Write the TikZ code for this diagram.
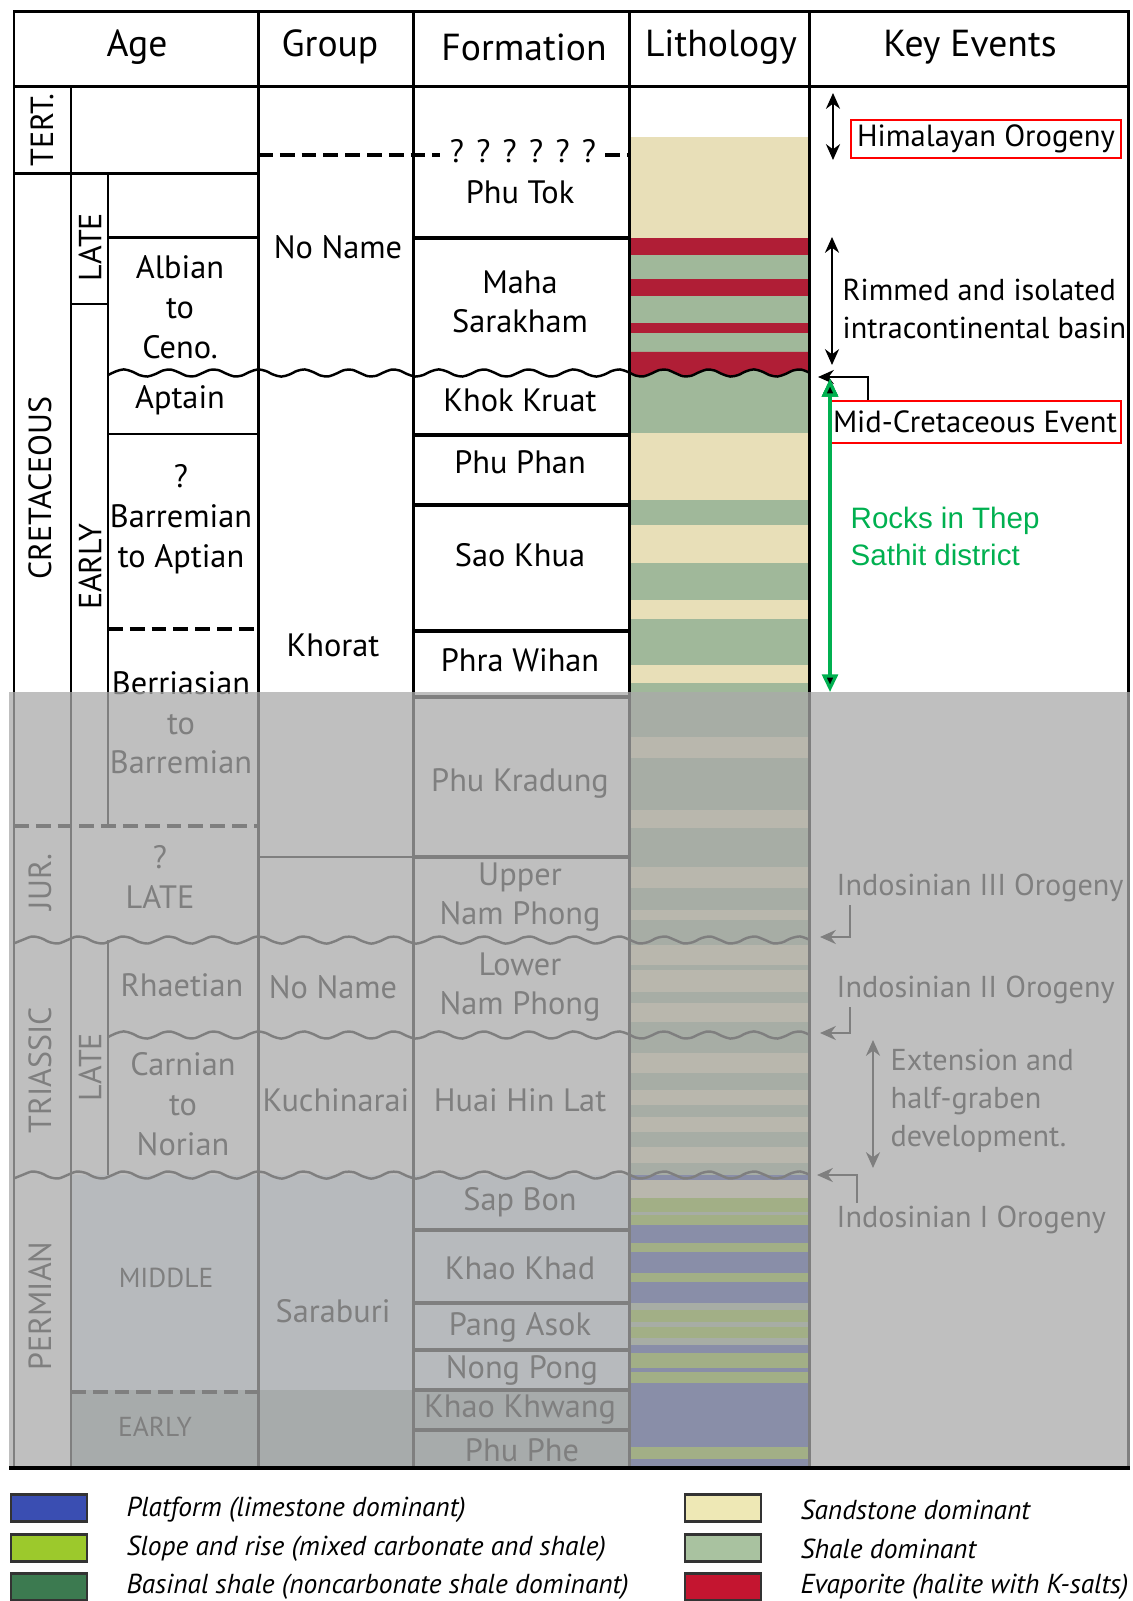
\documentclass[tikz,border=0pt]{standalone}
\usepackage{fontspec}
\setmainfont{PT Sans}
\newfontfamily\arialfont{Liberation Sans}
\usetikzlibrary{arrows.meta}
\definecolor{sandclr}{RGB}{232,223,184}
\definecolor{shaleclr}{RGB}{160,184,154}
\definecolor{evapclr}{RGB}{176,30,54}
\definecolor{platclr}{RGB}{40,60,165}
\definecolor{slopeclr}{RGB}{140,190,30}
\definecolor{midperm}{RGB}{222,234,248}
\definecolor{earlyperm}{RGB}{160,176,176}
\definecolor{veil}{RGB}{170,170,170}
\definecolor{rockgreen}{RGB}{0,176,80}
\definecolor{legplat}{RGB}{58,78,178}
\definecolor{legslope}{RGB}{156,201,44}
\definecolor{legbasin}{RGB}{60,122,80}
\definecolor{legsand}{RGB}{238,232,181}
\definecolor{legshale}{RGB}{169,194,160}
\definecolor{legevap}{RGB}{196,21,48}
\tikzstyle{grid}=[line width=0.85pt]
\tikzstyle{thinline}=[line width=0.5pt]
\tikzstyle{fline}=[line width=1.2pt]
\tikzstyle{dashline}=[line width=0.95pt, dash pattern=on 4.2pt off 2pt]
\tikzstyle{wline}=[line width=0.7pt]
\tikzstyle{hdr}=[font=\fontsize{10.7}{12}\selectfont]
\tikzstyle{lbl}=[font=\fontsize{9.2}{11.3}\selectfont, align=center]
\tikzstyle{vlbl}=[rotate=90, font=\fontsize{9.1}{10}\selectfont]
\tikzstyle{tinylbl}=[font=\fontsize{7.8}{8}\selectfont]
\tikzstyle{evt}=[anchor=west, align=left, inner sep=0pt, font=\fontsize{8.6}{10.8}\selectfont]
\tikzstyle{redbox}=[draw=red, line width=0.6pt, inner sep=0pt, font=\fontsize{8.7}{10.8}\selectfont]
\tikzstyle{rocks}=[anchor=west, align=left, inner sep=0pt, text=rockgreen, font=\arialfont\fontsize{8.4}{10.5}\selectfont]
\tikzstyle{evarrow}=[line width=0.6pt, {Stealth[length=4.5pt,width=4pt]}-{Stealth[length=4.5pt,width=4pt]}]
\tikzstyle{elbow}=[line width=0.6pt, -{Stealth[length=4.5pt,width=4pt]}]
\tikzstyle{greenarrow}=[draw=rockgreen, line width=0.9pt, {Triangle[length=5pt,width=4.5pt]}-{Triangle[length=5pt,width=4.5pt]}]
\tikzstyle{swatch}=[draw=black!80, line width=0.6pt, minimum width=0.76cm, minimum height=0.27cm, inner sep=0pt]
\tikzstyle{legtext}=[anchor=west, inner sep=0pt, font=\fontsize{7.8}{8}\selectfont\itshape]
\newcommand{\unconf}[3]{\draw[wline] plot[domain=#2:#3, samples=90, smooth] (\x, {#1+3.6*sin(8*\x)});}
\newcommand{\qgap}{\hspace{3.5pt}}

\begin{document}
\begin{tikzpicture}[x=0.01cm, y=-0.01cm]
	\useasboundingbox (0, 0) rectangle (1132, 1601);
	\begin{scope}
		\fill[midperm] (71, 1175) rectangle (629, 1390);
		\fill[earlyperm] (71, 1390) rectangle (629, 1467);
		\foreach \ya/\yb/\clr in {137/238/sandclr, 238/255/evapclr, 255/279/shaleclr, 279/296/evapclr, 296/323/shaleclr, 323/333/evapclr, 333/352/shaleclr, 370/433/shaleclr, 433/500/sandclr, 500/525/shaleclr, 525/563/sandclr, 563/600/shaleclr, 600/619/sandclr, 619/665/shaleclr, 665/683/sandclr, 683/737/shaleclr, 737/758/sandclr, 758/810/shaleclr, 810/828/sandclr, 828/867/shaleclr, 867/888/sandclr, 888/910/shaleclr, 910/920/sandclr, 920/945/shaleclr, 945/965/sandclr, 965/970/shaleclr, 970/992/sandclr, 992/1003/shaleclr, 1003/1022/sandclr, 1022/1053/shaleclr, 1053/1073/sandclr, 1073/1090/shaleclr, 1090/1105/sandclr, 1105/1117/shaleclr, 1117/1132/sandclr, 1132/1147/shaleclr, 1147/1163/sandclr, 1163/1175/shaleclr, 1175/1180/platclr, 1180/1198/sandclr, 1198/1212/slopeclr, 1212/1215/shaleclr, 1215/1225/slopeclr, 1225/1243/platclr, 1243/1252/slopeclr, 1252/1273/platclr, 1273/1282/slopeclr, 1282/1303/platclr, 1303/1310/shaleclr, 1310/1322/slopeclr, 1322/1327/shaleclr, 1327/1338/slopeclr, 1338/1345/shaleclr, 1345/1353/platclr, 1353/1368/slopeclr, 1368/1372/platclr, 1372/1383/slopeclr, 1383/1447/platclr, 1447/1459/slopeclr, 1459/1467/platclr}
			\fill[\clr] (629, \ya) rectangle (809, \yb);
		\fill[evapclr] (629, 352) -- (809, 352) -- plot[domain=809:629, samples=60, smooth] (\x, {373+3.6*sin(8*\x)}) -- cycle;
	\end{scope}
	\begin{scope}
		\draw[grid] (14, 12) rectangle (1128, 1467);
		\draw[grid] (14, 87) -- (1128, 87);
		\foreach \xc in {258, 413, 629, 809}
			\draw[grid] (\xc, 12) -- (\xc, 1467);
		\draw[grid] (71, 87) -- (71, 1467);
		\draw[grid] (108, 174) -- (108, 826);
		\draw[grid] (108, 940) -- (108, 1175);
		\draw[grid] (14, 174) -- (258, 174);
		\draw[grid] (108, 238) -- (258, 238);
		\draw[thinline] (71, 304) -- (108, 304);
		\draw[grid] (108, 434) -- (258, 434);
		\draw[dashline] (108, 629) -- (258, 629);
		\draw[dashline] (14, 826) -- (258, 826);
		\draw[dashline] (71, 1392) -- (258, 1392);
		\draw[dashline] (258, 155) -- (440, 155);
		\draw[dashline] (605, 155) -- (629, 155);
		\draw[grid] (258, 857) -- (413, 857);
		\foreach \yc in {238, 435, 505, 631, 697, 857, 1230, 1303, 1350, 1390, 1430}
			\draw[fline] (413, \yc) -- (629, \yc);
		\unconf{373}{108}{809}
		\unconf{940}{14}{809}
		\unconf{1035}{108}{809}
		\unconf{1175}{14}{809}
	\end{scope}
	\begin{scope}
		\node (age) at (137, 47) [hdr] {Age};
		\node (group) at (330, 47) [hdr] {Group};
		\node (formation) at (524, 47) [hdr] {Formation};
		\node (lithology) at (721, 47) [hdr] {Lithology};
		\node (keyevents) at (970, 47) [hdr] {Key Events};

		\node (tert) at (42, 130) [vlbl] {TERT.};
		\node (cret) at (40, 488) [vlbl] {CRETACEOUS};
		\node (jur) at (40, 882) [vlbl] {JUR.};
		\node (trias) at (40, 1070) [vlbl] {TRIASSIC};
		\node (perm) at (40, 1306) [vlbl] {PERMIAN};
		\node (kLate) at (90, 247) [vlbl] {LATE};
		\node (kEarly) at (90, 567) [vlbl] {EARLY};
		\node (trLate) at (90, 1067) [vlbl] {LATE};

		\node (albian) at (180, 307) [lbl] {Albian\\to\\Ceno.};
		\node (aptain) at (180, 400) [lbl] {Aptain};
		\node (barrem) at (181, 519) [lbl] {?\\Barremian\\to Aptian};
		\node (berrias) at (181, 723) [lbl] {Berriasian\\to\\Barremian};
		\node (jLate) at (160, 877) [lbl] {?\\LATE};
		\node (rhaet) at (182, 985) [lbl] {Rhaetian};
		\node (carnian) at (183, 1104) [lbl] {Carnian\\to\\Norian};
		\node (pMiddle) at (166, 1278) [tinylbl] {MIDDLE};
		\node (pEarly) at (155, 1427) [tinylbl] {EARLY};

		\node (noname1) at (338, 247) [lbl] {No Name};
		\node (khorat) at (333, 645) [lbl] {Khorat};
		\node (noname2) at (333, 987) [lbl] {No Name};
		\node (kuchin) at (336, 1100) [lbl] {Kuchinarai};
		\node (sarab) at (333, 1311) [lbl] {Saraburi};

		\node (qmarks) at (523, 151) [lbl] {?\qgap?\qgap?\qgap?\qgap?\qgap?};
		\node (phutok) at (520, 192) [lbl] {Phu Tok};
		\node (maha) at (520, 302) [lbl] {Maha\\Sarakham};
		\node (khok) at (520, 400) [lbl] {Khok Kruat};
		\node (phuphan) at (520, 462) [lbl] {Phu Phan};
		\node (saokhua) at (520, 555) [lbl] {Sao Khua};
		\node (phrawihan) at (520, 660) [lbl] {Phra Wihan};
		\node (phukrad) at (520, 783) [lbl] {Phu Kradung};
		\node (upnp) at (520, 897) [lbl] {Upper\\Nam Phong};
		\node (lonp) at (520, 987) [lbl] {Lower\\Nam Phong};
		\node (huai) at (520, 1100) [lbl] {Huai Hin Lat};
		\node (sapbon) at (520, 1202) [lbl] {Sap Bon};
		\node (khaokhad) at (520, 1268) [lbl] {Khao Khad};
		\node (pangasok) at (520, 1327) [lbl] {Pang Asok};
		\node (nongpong) at (522, 1370) [lbl] {Nong Pong};
		\node (khaokhw) at (520, 1410) [lbl] {Khao Khwang};
		\node (phuphe) at (522, 1450) [lbl] {Phu Phe};

		\node (rimmed) at (842, 309) [evt] {Rimmed and isolated\\intracontinental basin};
		\node (indo3) at (836, 888) [evt] {Indosinian III Orogeny};
		\node (indo2) at (836, 990) [evt] {Indosinian II Orogeny};
		\node (ext) at (890, 1101) [evt] {Extension and\\half-graben\\development.};
		\node (indo1) at (836, 1220) [evt] {Indosinian I Orogeny};
	\end{scope}
	\begin{scope}
		\coordinate (hA) at (833, 93);
		\coordinate (hB) at (833, 160);
		\coordinate (rA) at (832, 237);
		\coordinate (rB) at (832, 365);
		\coordinate (mA) at (868, 401);
		\coordinate (mB) at (818, 377);
		\coordinate (i3a) at (850, 905);
		\coordinate (i3b) at (820, 937);
		\coordinate (i2a) at (850, 1007);
		\coordinate (i2b) at (820, 1033);
		\coordinate (eA) at (873, 1040);
		\coordinate (eB) at (873, 1168);
		\coordinate (i1a) at (857, 1203);
		\coordinate (i1b) at (817, 1175);

		\path [evarrow] (hA) edge (hB);
		\path [evarrow] (rA) edge (rB);
		\draw [elbow] (mA) |- (mB);
		\draw [elbow] (i3a) |- (i3b);
		\draw [elbow] (i2a) |- (i2b);
		\path [evarrow] (eA) edge (eB);
		\draw [elbow] (i1a) |- (i1b);
	\end{scope}

	\fill[veil, opacity=0.75] (9, 692) rectangle (1130, 1466);
	\draw[line width=1.3pt] (9, 1468) -- (1130, 1468);

	\begin{scope}
		\node (himal) at (986, 139) [redbox, minimum width=2.69cm, minimum height=0.38cm] {Himalayan Orogeny};
		\node (midcret) at (975, 422) [redbox, minimum width=2.92cm, minimum height=0.42cm] {Mid-Cretaceous Event};
		\node (rocks) at (850, 536) [rocks] {Rocks in Thep\\Sathit district};
		\coordinate (gA) at (830, 379);
		\coordinate (gB) at (830, 692);
		\path [greenarrow] (gA) edge (gB);
	\end{scope}

	\begin{scope}
		\node (swplat) at (49, 1508) [swatch, fill=legplat] {};
		\node (swslope) at (49, 1548) [swatch, fill=legslope] {};
		\node (swbasin) at (49, 1587) [swatch, fill=legbasin] {};
		\node (swsand) at (723, 1508) [swatch, fill=legsand] {};
		\node (swshale) at (723, 1548) [swatch, fill=legshale] {};
		\node (swevap) at (723, 1587) [swatch, fill=legevap] {};
		\node (txplat) at (126, 1510) [legtext] {Platform (limestone dominant)};
		\node (txslope) at (126, 1549) [legtext] {Slope and rise (mixed carbonate and shale)};
		\node (txbasin) at (126, 1587) [legtext] {Basinal shale (noncarbonate shale dominant)};
		\node (txsand) at (800, 1510) [legtext] {Sandstone dominant};
		\node (txshale) at (800, 1549) [legtext] {Shale dominant};
		\node (txevap) at (800, 1587) [legtext] {Evaporite (halite with K-salts)};
	\end{scope}
\end{tikzpicture}
\end{document}
